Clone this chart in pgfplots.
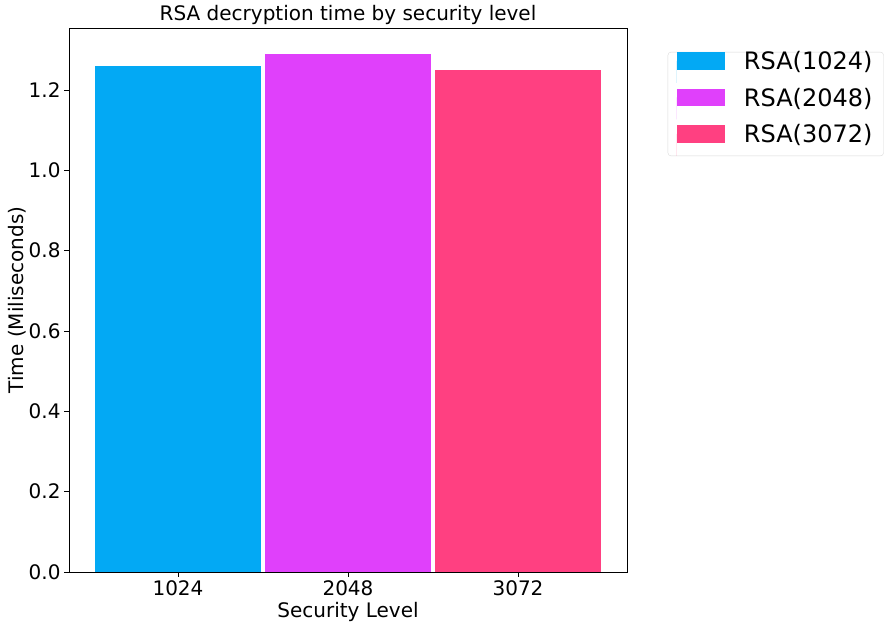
\documentclass[border=0pt]{standalone}
\usepackage{pgfplots}
\pgfplotsset{compat=1.18}
\usepackage{fontspec}
\setmainfont{DejaVu Sans}
\definecolor{c1}{HTML}{03A9F4}
\definecolor{c2}{HTML}{E040FB}
\definecolor{c3}{HTML}{FF4081}
\begin{document}
\begin{tikzpicture}[x=1bp,y=1bp]
\path[use as bounding box] (0,0) rectangle (889,628);
\begin{axis}[
  at={(69bp,56bp)}, anchor=south west,
  scale only axis, width=558bp, height=544bp,
  xmin=-0.641, xmax=2.641, ymin=0, ymax=1.3545,
  xtick={0,1,2}, xticklabels={1024,2048,3072},
  ytick={0,0.2,0.4,0.6,0.8,1.0,1.2},
  yticklabel style={/pgf/number format/.cd,fixed,fixed zerofill,precision=1},
  /pgf/number format/assume math mode=true,
  tick label style={font=\fontsize{20bp}{24bp}\selectfont},
  label style={font=\fontsize{20bp}{24bp}\selectfont},
  every axis title shift=0pt,
  title style={font=\fontsize{20bp}{24bp}\selectfont, at={(axis description cs:0.5,1.0239)}, anchor=center},
  xlabel style={at={(axis description cs:0.5,-0.073)}, anchor=center},
  ylabel style={at={(axis description cs:-0.0932,0.5)}, anchor=center},
  title={RSA decryption time by security level},
  xlabel={Security Level},
  ylabel={Time (Miliseconds)},
  tick align=outside, major tick length=5bp,
  xtick pos=bottom, ytick pos=left,
  axis line style={line width=0.8pt},
  tick style={line width=0.8pt, black},
  ybar, bar width=0.976, bar shift=0pt,
  legend cell align=left,
  legend image code/.code={\fill[#1,/tikz/.cd,sharp corners] (0bp,-8.75bp) rectangle (48bp,8.75bp); \path (0bp,-22bp) -- (0bp,0bp);},
  legend style={at={(axis description cs:1.073,0.956)}, anchor=north west,
    font=\fontsize{24bp}{28bp}\selectfont, draw=black!15, rounded corners=3bp,
    inner xsep=9bp, inner ysep=0bp, row sep=5.75bp,
    nodes={text height=17.5bp, text depth=0bp, inner ysep=0bp},
    /tikz/every odd column/.append style={column sep=17bp}},
]
\addplot[fill=c1, draw=none] coordinates {(0,1.26)};
\addlegendentry{RSA(1024)}
\addplot[fill=c2, draw=none] coordinates {(1,1.29)};
\addlegendentry{RSA(2048)}
\addplot[fill=c3, draw=none] coordinates {(2,1.25)};
\addlegendentry{RSA(3072)}
\end{axis}
\end{tikzpicture}
\end{document}
